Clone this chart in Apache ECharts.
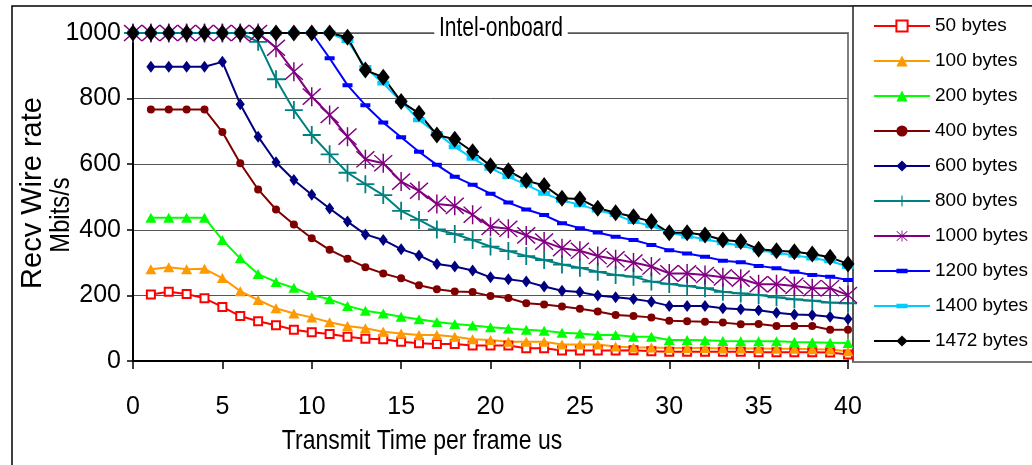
<!DOCTYPE html>
<html>
<head>
<meta charset="utf-8">
<script src="https://cdn.jsdelivr.net/npm/echarts@6/dist/echarts.min.js"></script>
<style>
html,body{margin:0;padding:0;background:#fff;}
#chart{width:1032px;height:465px;}
</style>
</head>
<body>
<div id="chart"></div>
<script>
// ---- data ----
const chartTitle = 'Intel-onboard';
const xTitle = 'Transmit Time per frame us';
const yTitle1 = 'Recv Wire rate';
const yTitle2 = 'Mbits/s';
const seriesNames = ['50 bytes','100 bytes','200 bytes','400 bytes','600 bytes','800 bytes','1000 bytes','1200 bytes','1400 bytes','1472 bytes'];
const xTicks = [0,5,10,15,20,25,30,35,40];
const yTicks = [0,200,400,600,800,1000];

const timesFrom1 = [1,2,3,4,5,6,7,8,9,10,11,12,13,14,15,16,17,18,19,20,21,22,23,24,25,26,27,28,29,30,31,32,33,34,35,36,37,38,39,40];
const timesFrom0 = [0,1,2,3,4,5,6,7,8,9,10,11,12,13,14,15,16,17,18,19,20,21,22,23,24,25,26,27,28,29,30,31,32,33,34,35,36,37,38,39,40];

const bytes50  = [203,211,204,191,165,137,121,109,95,88,82,74,68,66,59,54,52,52,47,47,47,39,39,32,32,32,32,33,30,28,28,28,28,28,27,27,27,27,26,20];
const bytes100 = [280,286,280,281,253,213,186,161,145,133,118,107,100,89,84,79,79,74,66,64,59,59,59,50,50,50,44,41,41,40,40,40,38,38,38,37,37,36,35,30];
const bytes200 = [437,437,437,437,369,313,265,241,223,201,188,168,153,145,135,127,119,113,108,103,99,95,92,86,84,79,79,74,74,64,64,63,61,60,60,60,58,57,56,55];
const bytes400 = [767,767,767,767,698,603,523,462,416,374,339,312,286,267,252,231,219,212,210,198,192,176,172,166,159,151,140,137,133,123,121,120,117,112,113,107,107,107,95,95];
const bytes600 = [897,897,897,897,912,783,684,606,552,507,465,425,386,369,341,322,296,288,276,255,249,242,227,214,210,200,194,189,181,168,168,168,161,158,155,147,142,140,135,128];
const bytes800 = [1000,1000,1000,1000,1000,1000,1000,973,859,765,689,630,574,539,506,458,430,401,387,369,349,335,320,308,294,284,272,262,257,242,235,229,222,211,206,201,194,188,184,178,176];
const bytes1000 = [1000,1000,1000,1000,1000,1000,1000,1000,955,882,806,750,684,615,603,547,519,479,473,446,409,403,383,364,344,336,320,310,300,288,267,267,262,255,251,234,234,229,222,222,201];
const bytes1200 = [1000,1000,1000,1000,1000,1000,1000,1000,1000,1000,1000,923,841,780,727,682,638,598,562,537,510,483,462,445,420,405,392,379,369,354,338,328,318,306,301,290,283,272,262,257,247];
const bytes1400 = [1000,1000,1000,1000,1000,1000,1000,1000,1000,1000,1000,1000,977,895,847,791,735,694,653,618,587,562,537,511,490,476,460,446,425,412,392,380,372,360,352,338,330,322,314,305,288];
const bytes1472 = [1000,1000,1000,1000,1000,1000,1000,1000,1000,1000,1000,1000,987,887,865,791,755,689,676,638,595,580,550,535,496,494,466,452,440,425,391,391,384,369,364,341,336,333,326,316,296];

// ---- presentation ----
const FONT = "'Liberation Sans',Arial,sans-serif";

const plusPath = 'path://M9,0L11,0L11,9L20,9L20,11L11,11L11,20L9,20L9,11L0,11L0,9L9,9Z';
const starPath = 'path://M9.3,0L10.7,0L10.7,20L9.3,20Z M1,2L2,1L19,18L18,19Z M18,1L19,2L2,19L1,18Z';
// dash centred in a square box (degenerate sub-paths only extend the bounds)
const dashPath = 'path://M0,0L10,0L10,0Z M0,3L10,3L10,7L0,7Z M0,10L10,10L10,10Z';

const styles = [
  {data: bytes50,  xs: timesFrom1, color:'#FF0000', symbol:'emptyRect', size:8, bw:1.5},
  {data: bytes100, xs: timesFrom1, color:'#FF9900', symbol:'triangle', size:[11,10]},
  {data: bytes200, xs: timesFrom1, color:'#00FF00', symbol:'triangle', size:[11,10]},
  {data: bytes400, xs: timesFrom1, color:'#800000', symbol:'circle', size:8},
  {data: bytes600, xs: timesFrom1, color:'#000080', symbol:'diamond', size:[9,12]},
  {data: bytes800, xs: timesFrom0, color:'#008080', symbol:plusPath, size:18},
  {data: bytes1000, xs: timesFrom0, color:'#800080', symbol:starPath, size:19},
  {data: bytes1200, xs: timesFrom0, color:'#0000FF', symbol:dashPath, size:[10,10]},
  {data: bytes1400, xs: timesFrom0, color:'#00CCFF', symbol:dashPath, size:[12,12]},
  {data: bytes1472, xs: timesFrom0, color:'#000000', symbol:'diamond', size:[13,17]}
];

const series = styles.map((s, k) => ({
  name: seriesNames[k],
  type: 'line',
  data: s.xs.map((t, i) => [t, s.data[i]]),
  symbol: s.symbol,
  symbolSize: s.size,
  symbolKeepAspect: false,
  showAllSymbol: true,
  lineStyle: {color: s.color, width: 2},
  itemStyle: {color: s.color, borderColor: s.color, borderWidth: s.bw || 0},
  animation: false
}));

const chart = echarts.init(document.getElementById('chart'), null, {renderer:'canvas'});
chart.setOption({
  backgroundColor: '#fff',
  animation: false,
  grid: {left:133, right:184, top:33, bottom:104, show:true, borderColor:'#808080', borderWidth:2, backgroundColor:'transparent'},
  legend: {
    data: seriesNames,
    orient: 'vertical',
    left: 868, top: 10,
    itemWidth: 56, itemHeight: 14, itemGap: 13,
    textStyle: {fontFamily: FONT, fontSize: 19, color:'#000', lineHeight: 22},
    selectedMode: false
  },
  xAxis: {
    type:'value', min:0, max:40, interval:5,
    axisLine:{show:true, lineStyle:{color:'#000', width:2}},
    axisTick:{show:true, length:8, lineStyle:{color:'#000', width:1.5}},
    axisLabel:{fontFamily:FONT, fontSize:25, color:'#000', margin:34,
      formatter: v => xTicks.includes(v) ? String(v) : ''},
    splitLine:{show:false}
  },
  yAxis: {
    type:'value', min:0, max:1000, interval:200,
    axisLine:{show:true, lineStyle:{color:'#000', width:2}},
    axisTick:{show:true, length:6, lineStyle:{color:'#000', width:1.5}},
    axisLabel:{fontFamily:FONT, fontSize:25, color:'#000', margin:12,
      formatter: v => yTicks.includes(v) ? String(v) : ''},
    splitLine:{show:true, lineStyle:{color:'#555', width:1}}
  },
  graphic: [
    {type:'rect', shape:{x:12, y:6, width:1060, height:500}, style:{fill:'none', stroke:'#000', lineWidth:1.5}, z:-10, silent:true},
    {type:'rect', shape:{x:853, y:6, width:200, height:356}, style:{fill:'#fff', stroke:'#222', lineWidth:1.5}, z:-5, silent:true},
    {type:'line', shape:{x1:853, y1:362, x2:1032, y2:362}, style:{stroke:'#777', lineWidth:2}, z:-4, silent:true},
    {type:'text', x:501, y:29, scaleX:0.78, z:100, style:{text:chartTitle, fontFamily:FONT, fontSize:27, fill:'#000', align:'center', verticalAlign:'middle', backgroundColor:'#fff', padding:[2,6]}},
    {type:'text', x:422, y:441, scaleX:0.82, z:100, style:{text:xTitle, fontFamily:FONT, fontSize:28, fill:'#000', align:'center', verticalAlign:'middle'}},
    {type:'text', x:33, y:193, rotation:Math.PI/2, z:100, style:{text:yTitle1, fontFamily:FONT, fontSize:29, fill:'#000', align:'center', verticalAlign:'middle'}},
    {type:'text', x:61, y:215, rotation:Math.PI/2, scaleX:0.85, z:100, style:{text:yTitle2, fontFamily:FONT, fontSize:28, fill:'#000', align:'center', verticalAlign:'middle'}}
  ],
  series: series
});
</script>
</body>
</html>
